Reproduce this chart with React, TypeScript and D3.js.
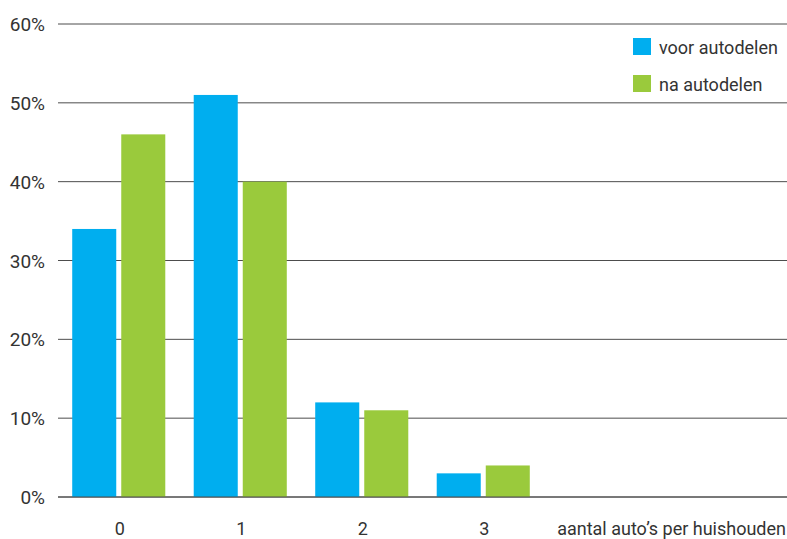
import * as d3 from 'd3';

const categories = ['0', '1', '2', '3'];
const seriesNames = ['voor autodelen', 'na autodelen'];
const voorValues = [34, 51, 12, 3];
const naValues = [46, 40, 11, 4];
const yTicks = [0, 10, 20, 30, 40, 50, 60];
const axisTitle = 'aantal auto’s per huishouden';

const W = 787;
const H = 539;
const colors = ['#00aeef', '#9aca3c'];
const font = "Roboto, 'Noto Sans', sans-serif";

const App = () => {
  // six slots on the x axis, only the first four carry data
  const slots = d3.range(6).map(String);
  const x = d3.scaleBand<string>().domain(slots).range([58, W]).padding(0);
  const inner = d3
    .scaleBand<string>()
    .domain(seriesNames)
    .range([0, x.bandwidth()])
    .paddingInner(0.102)
    .paddingOuter(0.29);
  const y = d3.scaleLinear().domain([0, 60]).range([497, 24]);

  const series = [voorValues, naValues];

  return (
    <div style={{ position: 'absolute', left: 0, top: 0 }}>
      <svg width={W} height={H} style={{ display: 'block', fontFamily: font }}>
        <rect width={W} height={H} fill='#fff' />
        {yTicks.map((t) => (
          <g key={t}>
            <line x1={58} x2={W} y1={y(t)} y2={y(t)} stroke='#4d4d4d' strokeWidth={1} />
            <text x={45} y={y(t) + 7} textAnchor='end' fontSize={19} fill='#333'>
              {t}%
            </text>
          </g>
        ))}
        {categories.map((c, i) => (
          <g key={c}>
            {series.map((vals, s) => (
              <rect
                key={s}
                x={(x(c) || 0) + (inner(seriesNames[s]) || 0)}
                y={y(vals[i])}
                width={inner.bandwidth()}
                height={y(0) - y(vals[i])}
                fill={colors[s]}
              />
            ))}
            <text
              x={(x(c) || 0) + x.bandwidth() / 2 + 1}
              y={535}
              textAnchor='middle'
              fontSize={18}
              fill='#333'
            >
              {c}
            </text>
          </g>
        ))}
        <line x1={58} x2={W} y1={y(0)} y2={y(0)} stroke='#4d4d4d' strokeWidth={1} />
        <text x={786} y={535} textAnchor='end' fontSize={18} fill='#333'>
          {axisTitle}
        </text>
        {/* Legend */}
        {seriesNames.map((name, s) => (
          <g key={name} transform={`translate(633, ${38 + s * 37})`}>
            <rect width={18} height={17} fill={colors[s]} />
            <text x={26} y={16} fontSize={18} fill='#333'>
              {name}
            </text>
          </g>
        ))}
      </svg>
    </div>
  );
};

export default App;
